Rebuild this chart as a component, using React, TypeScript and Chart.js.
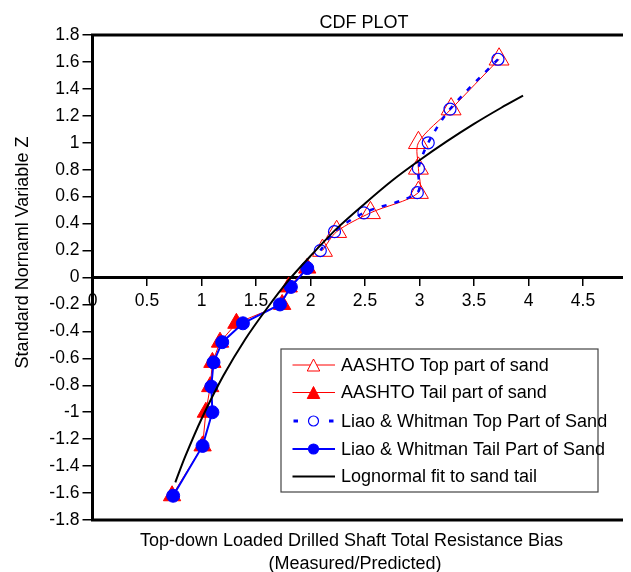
import React, { useEffect, useRef } from "react";
import { Chart, registerables } from "chart.js";

Chart.register(...registerables);

// ---- data ----
const topZ = [1.62, 1.25, 1.0, 0.81, 0.63, 0.48, 0.34, 0.2];
const tailZ = [0.07, -0.07, -0.2, -0.34, -0.48, -0.63, -0.81, -1.0, -1.25, -1.62];

const aashtoTopX = [3.73, 3.29, 2.99, 2.99, 2.99, 2.55, 2.24, 2.11];
const aashtoTailX = [1.97, 1.8, 1.74, 1.32, 1.17, 1.1, 1.08, 1.04, 1.01, 0.73];
const lwTopX = [3.72, 3.28, 3.08, 2.99, 2.98, 2.49, 2.22, 2.09];
const lwTailX = [1.97, 1.82, 1.72, 1.38, 1.19, 1.11, 1.09, 1.1, 1.01, 0.74];

const lognX = [0.76, 0.85, 1.0, 1.2, 1.4, 1.6, 1.8, 2.0, 2.25, 2.5, 2.75, 3.0, 3.25, 3.5, 3.75, 3.95];
const lognZ = [-1.52, -1.33, -1.05, -0.73, -0.46, -0.23, -0.02, 0.16, 0.37, 0.55, 0.72, 0.87, 1.01, 1.14, 1.26, 1.35];

const seriesNames = [
  "AASHTO Top part of sand",
  "AASHTO Tail part of sand",
  "Liao & Whitman Top Part of Sand",
  "Liao & Whitman Tail Part of Sand",
  "Lognormal fit to sand tail",
];

const chartTitle = "CDF PLOT";
const xTitle = ["Top-down Loaded Drilled Shaft Total Resistance Bias", "(Measured/Predicted)"];
const yTitle = "Standard Nornaml Variable Z";

const xMin = 0;
const xMax = 5;
const xStep = 0.5;
const yMin = -1.8;
const yMax = 1.8;
const yStep = 0.2;

const FONT = "'Liberation Sans', Arial, Helvetica, sans-serif";
const RED = "#FF0000";
const BLUE = "#0000FF";

const pts = (xs: number[], zs: number[]) => xs.map((x, i) => ({ x, y: zs[i] }));
const fmt = (v: number) => {
  const r = Math.round(v * 10) / 10;
  return String(r === 0 ? 0 : r);
};

export default function App() {
  const ref = useRef<HTMLCanvasElement>(null);

  useEffect(() => {
    const canvas = ref.current;
    if (!canvas) return;

    const decor = {
      id: "decor",
      afterDraw(chart: any) {
        const ctx = chart.ctx as CanvasRenderingContext2D;
        const a = chart.chartArea;
        ctx.save();
        // top & bottom frame lines
        ctx.strokeStyle = "#000";
        ctx.lineWidth = 3;
        ctx.beginPath();
        ctx.moveTo(a.left - 1.5, a.top);
        ctx.lineTo(a.right, a.top);
        ctx.moveTo(a.left - 1.5, a.bottom);
        ctx.lineTo(a.right, a.bottom);
        ctx.stroke();

        // chart title
        ctx.fillStyle = "#000";
        ctx.font = `18px ${FONT}`;
        ctx.textAlign = "center";
        ctx.textBaseline = "alphabetic";
        ctx.fillText(chartTitle, a.left + 271.5, a.top - 7);

        // x-axis title
        ctx.fillText(xTitle[0], a.left + 259, a.bottom + 25.5);
        ctx.fillText(xTitle[1], a.left + 262.5, a.bottom + 49);

        // y-axis title
        ctx.save();
        ctx.translate(a.left - 69.5, a.top + 217.5);
        ctx.rotate(-Math.PI / 2);
        ctx.textBaseline = "middle";
        ctx.fillText(yTitle, 0, 0);
        ctx.restore();

        // legend
        const bx = a.left + 188.5;
        const by = a.top + 314;
        const bw = 317;
        const bh = 143;
        ctx.fillStyle = "#fff";
        ctx.fillRect(bx, by, bw, bh);
        ctx.strokeStyle = "#444";
        ctx.lineWidth = 1.2;
        ctx.strokeRect(bx, by, bw, bh);

        const rowY = [16, 43.5, 72, 100, 127.5];
        const lx0 = bx + 11.5;
        const lx1 = bx + 54;
        const mx = bx + 32.5;
        const tx = bx + 60;

        const tri = (cx: number, cy: number, fill: boolean) => {
          const w = 12.5, h = 12;
          ctx.beginPath();
          ctx.moveTo(cx, cy - h / 2);
          ctx.lineTo(cx + w / 2, cy + h / 2);
          ctx.lineTo(cx - w / 2, cy + h / 2);
          ctx.closePath();
          if (fill) {
            ctx.fillStyle = RED;
            ctx.fill();
          } else {
            ctx.fillStyle = "#fff";
            ctx.fill();
          }
          ctx.strokeStyle = RED;
          ctx.lineWidth = 1;
          ctx.setLineDash([]);
          ctx.stroke();
        };
        const circ = (cx: number, cy: number, fill: boolean) => {
          ctx.beginPath();
          ctx.arc(cx, cy, 5, 0, Math.PI * 2);
          ctx.fillStyle = fill ? BLUE : "#fff";
          ctx.fill();
          ctx.strokeStyle = BLUE;
          ctx.lineWidth = 1.2;
          ctx.setLineDash([]);
          ctx.stroke();
        };
        const line = (y: number, color: string, w: number, dash: number[]) => {
          ctx.beginPath();
          ctx.setLineDash(dash);
          ctx.strokeStyle = color;
          ctx.lineWidth = w;
          ctx.moveTo(lx0, y);
          ctx.lineTo(lx1, y);
          ctx.stroke();
          ctx.setLineDash([]);
        };

        // row 1
        let y = by + rowY[0];
        line(y, RED, 1, []);
        tri(mx, y, false);
        // row 2
        y = by + rowY[1];
        line(y, RED, 1, []);
        tri(mx, y, true);
        // row 3
        y = by + rowY[2];
        ctx.fillStyle = BLUE;
        ctx.fillRect(lx0 + 1, y - 1.5, 4.5, 3);
        ctx.fillRect(lx1 - 6, y - 1.5, 4.5, 3);
        circ(mx, y, false);
        // row 4
        y = by + rowY[3];
        line(y, BLUE, 2, []);
        circ(mx, y, true);
        // row 5
        y = by + rowY[4];
        line(y, "#000", 2, []);

        ctx.fillStyle = "#000";
        ctx.font = `18px ${FONT}`;
        ctx.textAlign = "left";
        ctx.textBaseline = "middle";
        seriesNames.forEach((n, i) => ctx.fillText(n, tx, by + rowY[i] + 1));
        ctx.restore();
      },
    };

    const chart = new Chart(canvas, {
      type: "scatter",
      data: {
        datasets: [
          {
            label: seriesNames[0],
            data: pts(aashtoTopX, topZ),
            showLine: true,
            borderColor: RED,
            borderWidth: 1,
            tension: 0.3,
            pointStyle: "triangle",
            pointRadius: 11.5,
            pointBorderColor: RED,
            pointBackgroundColor: "rgba(0,0,0,0)",
            pointBorderWidth: 1,
            order: 5,
          },
          {
            label: seriesNames[1],
            data: pts(aashtoTailX, tailZ),
            showLine: true,
            borderColor: RED,
            borderWidth: 1,
            tension: 0,
            pointStyle: "triangle",
            pointRadius: 10,
            pointBorderColor: RED,
            pointBackgroundColor: RED,
            pointBorderWidth: 1,
            order: 4,
          },
          {
            label: seriesNames[2],
            data: pts(lwTopX, topZ),
            showLine: true,
            borderColor: BLUE,
            borderWidth: 2.5,
            borderDash: [5, 8],
            tension: 0.3,
            pointStyle: "circle",
            pointRadius: 6,
            pointBorderColor: BLUE,
            pointBackgroundColor: "rgba(0,0,0,0)",
            pointBorderWidth: 1.2,
            order: 3,
          },
          {
            label: seriesNames[3],
            data: pts(lwTailX, tailZ),
            showLine: true,
            borderColor: BLUE,
            borderWidth: 2,
            tension: 0,
            pointStyle: "circle",
            pointRadius: 6.5,
            pointBorderColor: BLUE,
            pointBackgroundColor: BLUE,
            pointBorderWidth: 1,
            order: 2,
          },
          {
            label: seriesNames[4],
            data: pts(lognX, lognZ),
            showLine: true,
            borderColor: "#000",
            borderWidth: 2,
            tension: 0.3,
            pointRadius: 0,
            order: 1,
          },
        ],
      },
      options: {
        responsive: false,
        animation: false,
        devicePixelRatio: 1,
        layout: { padding: { top: 27, bottom: 52, left: 0, right: 70.5 } },
        plugins: {
          legend: { display: false },
          title: { display: false },
          tooltip: { enabled: false },
        },
        scales: {
          x: {
            type: "linear",
            position: { y: 0 } as any,
            min: xMin,
            max: xMax,
            ticks: {
              stepSize: xStep,
              autoSkip: false,
              maxRotation: 0,
              padding: 6,
              color: "#000",
              font: { family: FONT, size: 17.5 },
              callback: (v: any) => fmt(Number(v)),
            },
            grid: { drawOnChartArea: false, drawTicks: true, tickLength: 7, color: "#000", lineWidth: 1.5 },
            border: { display: true, color: "#000", width: 3 },
          },
          y: {
            type: "linear",
            position: "left",
            min: yMin,
            max: yMax,
            ticks: {
              stepSize: yStep,
              autoSkip: false,
              padding: 3,
              color: "#000",
              font: { family: FONT, size: 17.5 },
              callback: (v: any) => fmt(Number(v)),
            },
            grid: { drawOnChartArea: false, drawTicks: true, tickLength: 10, color: "#000", lineWidth: 1.5 },
            border: { display: true, color: "#000", width: 3 },
            afterFit: (s: any) => {
              s.width = 84.5;
            },
          },
        },
      },
      plugins: [decor],
    } as any);

    return () => chart.destroy();
  }, []);

  return (
    <div style={{ position: "relative", width: 623, height: 564, overflow: "hidden" }}>
      <canvas ref={ref} width={700} height={564} style={{ display: "block" }} />
    </div>
  );
}
